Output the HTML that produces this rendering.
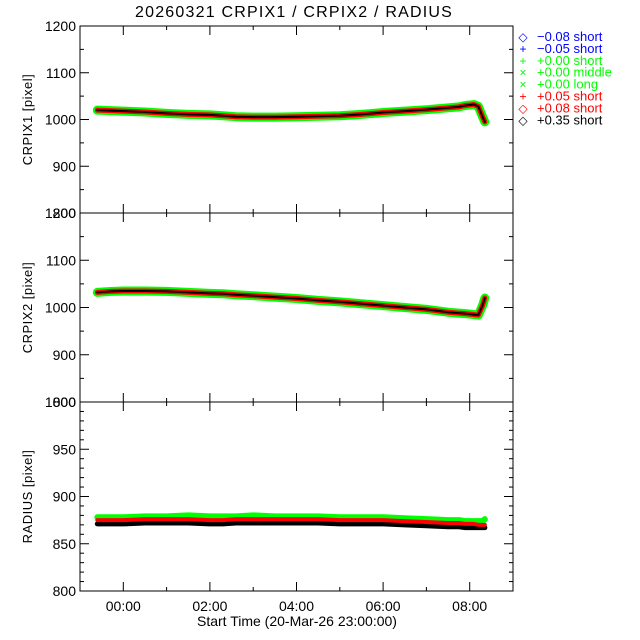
<!DOCTYPE html>
<html><head><meta charset="utf-8"><style>
body{margin:0;background:#fff}
svg{display:block;font-family:"Liberation Sans",sans-serif}
</style></head><body>
<svg id="c" width="640" height="640" viewBox="0 0 640 640"></svg>
<script>
const times=[-0.6,-0.3,0,0.5,1,1.5,2,2.3,2.6,3,3.5,4,4.5,5,5.5,6,6.5,7,7.5,7.75,7.9,8.1,8.2,8.3,8.35];
const crpix1=[1020,1019,1018,1016,1013,1011,1010,1008,1006,1005,1005,1006,1007,1008,1011,1015,1018,1021,1025,1027,1030,1032,1028,1005,995];
const crpix2=[1032,1034,1035,1035,1034,1032,1030,1029,1027,1025,1022,1019,1015,1012,1008,1004,1000,996,990,988,987,985,984,1005,1020];
const radiusGreen=[878,878,878,879,879,880,879,879,879,880,879,879,879,878,878,878,877,876,875,875,874,874,874,874,876];
const radiusRed=[875,875,875,876,876,876,875,875,876,876,876,876,876,875,875,875,874,873,872,872,871,871,870,870,870];
const radiusBlack=[871,871,871,872,872,872,871,871,872,872,872,872,872,871,871,871,870,869,868,868,867,867,867,867,867];
const xTickLabels=["00:00","02:00","04:00","06:00","08:00"];
const xTickValues=[0,2,4,6,8];
const legendLabels=["\u22120.08 short","\u22120.05 short","+0.00 short","+0.00 middle","+0.00 long","+0.05 short","+0.08 short","+0.35 short"];
const legendColors=["#0000ff","#0000ff","#00ff00","#00ff00","#00ff00","#ff0000","#ff0000","#000000"];
const legendSyms=["\u25C7","+","+","\u00D7","\u00D7","+","\u25C7","\u25C7"];

const svg=document.getElementById('c');const NS='http://www.w3.org/2000/svg';
function mk(t,a,p){const e=document.createElementNS(NS,t);for(const k in a)e.setAttribute(k,a[k]);(p||svg).appendChild(e);return e;}
const L=80,R=513;
const x=t=>L+(t+1)/10*(R-L);
const panels=[
 {top:26,bot:213,min:800,max:1200,major:100,minor:50,title:"CRPIX1 [pixel]",name:"crpix1"},
 {top:213,bot:402,min:800,max:1200,major:100,minor:50,title:"CRPIX2 [pixel]",name:"crpix2"},
 {top:402,bot:591,min:800,max:1000,major:50,minor:10,title:"RADIUS [pixel]",name:"radius"}];
let t=mk('text',{x:294,y:17,'text-anchor':'middle','font-size':16,'letter-spacing':'1.2'});t.textContent="20260321 CRPIX1 / CRPIX2 / RADIUS";

panels.forEach((p,i)=>{
 const y=v=>p.bot-(v-p.min)/(p.max-p.min)*(p.bot-p.top);
 p.y=y;
 const g=mk('g',{});
 
 mk('rect',{x:L,y:p.top,width:R-L,height:p.bot-p.top,fill:'none',stroke:'#000','stroke-width':1},g);
 for(let v=p.min;v<=p.max+0.01;v+=p.minor){
  const maj=Math.abs((v-p.min)%p.major)<0.01||Math.abs((v-p.min)%p.major-p.major)<0.01;
  const len=maj?9:4;
  mk('line',{x1:L,x2:L+len,y1:y(v),y2:y(v),stroke:'#000'},g);
  mk('line',{x1:R,x2:R-len,y1:y(v),y2:y(v),stroke:'#000'},g);
  if(maj){const tt=mk('text',{x:L-4,y:y(v)+5,'text-anchor':'end','font-size':14},g);tt.textContent=v;
   }
 }
 for(let h=-1;h<=9;h++){if(h<0||h>8)continue;const len=(h%2===0)?9:4;
  mk('line',{x1:x(h),x2:x(h),y1:p.bot,y2:p.bot-len,stroke:'#000'},g);
  mk('line',{x1:x(h),x2:x(h),y1:p.top,y2:p.top+len,stroke:'#000'},g);}
 const at=mk('text',{transform:`translate(32,${(p.top+p.bot)/2}) rotate(-90)`,'text-anchor':'middle','font-size':13,'letter-spacing':'0.5'},g);
 at.textContent=p.title;
});
function band(p,vals,color,w,name){
 const pts=times.map((tm,i)=>x(tm)+','+p.y(vals[i])).join(' ');
 const pl=mk('polyline',{points:pts,fill:'none',stroke:color,'stroke-width':w,'stroke-linejoin':'round','stroke-linecap':'round'});
 
}
const P=panels;
band(P[0],crpix1,'#00ff00',9,'crpix1-green-series');
band(P[0],crpix1,'#ff0000',5,'crpix1-red-series');
band(P[0],crpix1,'#000000',2,'crpix1-black-series');
band(P[1],crpix2,'#00ff00',9,'crpix2-green-series');
band(P[1],crpix2,'#ff0000',5,'crpix2-red-series');
band(P[1],crpix2,'#000000',2,'crpix2-black-series');
band(P[2],radiusBlack,'#000000',5,'radius-black-series');
band(P[2],radiusGreen,'#00ff00',6,'radius-green-series');
band(P[2],radiusRed,'#ff0000',4,'radius-red-series');
xTickValues.forEach((v,i)=>{const tt=mk('text',{x:x(v),y:611,'text-anchor':'middle','font-size':14});tt.textContent=xTickLabels[i];
 });
t=mk('text',{x:297,y:626,'text-anchor':'middle','font-size':14});t.textContent="Start Time (20-Mar-26 23:00:00)";

legendLabels.forEach((lab,i)=>{const yy=41+i*11.9;
 const s=mk('text',{x:523,y:yy,'font-size':12,fill:legendColors[i],'text-anchor':'middle'});s.textContent=legendSyms[i];
 
 const tt=mk('text',{x:537,y:yy,'font-size':13,fill:legendColors[i]});tt.textContent=lab;
 });
</script></body></html>
